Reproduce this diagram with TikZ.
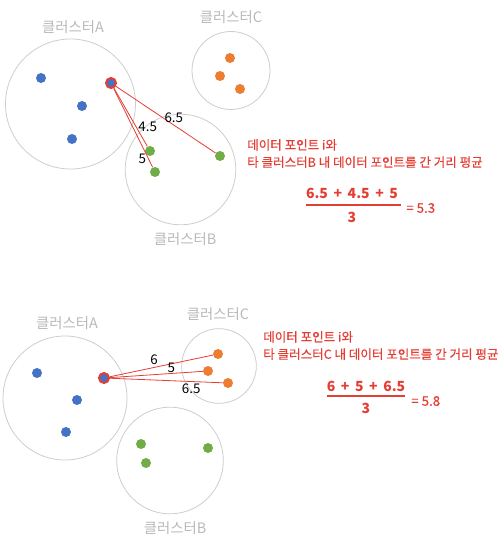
\documentclass[tikz,border=0pt]{standalone}
\usepackage{fontspec}
\setmainfont{Noto Sans CJK KR}
\newfontfamily\notefont{Noto Sans CJK KR}[FakeBold=0.4]
\usepackage{tikz}

\definecolor{blu}{HTML}{4472C4}
\definecolor{org}{HTML}{ED7D31}
\definecolor{grn}{HTML}{70AD47}
\definecolor{redl}{RGB}{228,62,52}
\definecolor{ring}{RGB}{205,205,205}
\definecolor{lgray}{RGB}{185,185,185}

\newcommand{\gap}{\hspace{0.4em}}

\begin{document}
\begin{tikzpicture}[x=0.75pt, y=-0.75pt,
    clus/.style={draw=ring, line width=0.6pt, circle, inner sep=0pt},
    lbl/.style={text=lgray, font=\fontsize{10.8}{12}\selectfont},
    dot/.style={circle, inner sep=0pt, minimum size=7.5pt},
    sel/.style={dot, fill=blu, draw=redl, line width=1.5pt, minimum size=7.5pt},
    dist/.style={draw=redl, line width=0.6pt},
    num/.style={text=black, font=\fontsize{10}{12}\selectfont, inner sep=1.5pt},
    note/.style={text=redl, anchor=west, align=left, inner sep=0pt, font=\notefont\fontsize{9.4}{13}\selectfont},
    frac/.style={text=redl, font=\bfseries\fontsize{10.5}{12}\selectfont},
    res/.style={text=redl, anchor=west, inner sep=0pt, font=\notefont\fontsize{10}{11}\selectfont}]

      \useasboundingbox (0,0) rectangle (500,540);

      % top: cluster B
      \node[clus, minimum size=97.5pt] (A1) at (70.5,104) {};
      \node[clus, minimum size=58.5pt] (C1) at (231,70.5) {};
      \node[clus, minimum size=83pt] (B1) at (180.5,169.5) {};
      \node[lbl] (la1) at (73,27) {클러스터A};
      \node[lbl] (lc1) at (231,17) {클러스터C};
      \node[lbl] (lb1) at (185,239) {클러스터B};

      \node[dot, fill=blu] (a11) at (41,78) {};
      \node[dot, fill=blu] (a12) at (82,106) {};
      \node[dot, fill=blu] (a13) at (72,139) {};
      \node[dot, fill=org] (c11) at (230,58) {};
      \node[dot, fill=org] (c12) at (220,76) {};
      \node[dot, fill=org] (c13) at (240,89) {};
      \node[dot, fill=grn] (b11) at (150,151) {};
      \node[dot, fill=grn] (b12) at (155,172) {};
      \node[dot, fill=grn] (b13) at (220,156) {};
      \node[sel] (s1) at (111,83) {};

      \draw (s1) edge[dist] node[num, pos=0.58, above]{6.5} (b13);
      \draw (s1) edge[dist] node[num, pos=0.66, right]{4.5} (b11);
      \draw (s1) edge[dist] node[num, pos=0.89, left]{5} (b12);

      \node[note] (t1) at (247,153.5) {데이터 포인트 i와\\타 클러스터B 내 데이터 포인트를 간 거리 평균};
      \node[frac] (n1) at (352,193) {6.5\gap+\gap4.5\gap+\gap5};
      \node[frac] (d1) at (352,217) {3};
      \draw[redl, line width=1.1pt] (306,205) -- (401,205);
      \node[res] (r1) at (406,208) {= 5.3};

      % bottom: cluster C
      \node[clus, minimum size=93pt] (A2) at (65,398) {};
      \node[clus, minimum size=56pt] (C2) at (219,366) {};
      \node[clus, minimum size=80pt] (B2) at (170,460.5) {};
      \node[lbl] (la2) at (67,323) {클러스터A};
      \node[lbl] (lc2) at (218,314) {클러스터C};
      \node[lbl] (lb2) at (175,528) {클러스터B};

      \node[dot, fill=blu] (a21) at (37,373) {};
      \node[dot, fill=blu] (a22) at (77,400) {};
      \node[dot, fill=blu] (a23) at (66,432) {};
      \node[dot, fill=org] (c21) at (218,354) {};
      \node[dot, fill=org] (c22) at (208,371) {};
      \node[dot, fill=org] (c23) at (228,383) {};
      \node[dot, fill=grn] (b21) at (141,444) {};
      \node[dot, fill=grn] (b22) at (146,463) {};
      \node[dot, fill=grn] (b23) at (208,448) {};
      \node[sel] (s2) at (104,378) {};

      \draw (s2) edge[dist] node[num, pos=0.43, above]{6} (c21);
      \draw (s2) edge[dist] node[num, pos=0.66, above, inner sep=0.5pt]{5} (c22);
      \draw (s2) edge[dist] node[num, pos=0.72, below]{6.5} (c23);

      \node[note] (t2) at (263,345.5) {데이터 포인트 i와\\타 클러스터C 내 데이터 포인트를 간 거리 평균};
      \node[frac] (n2) at (366,386) {6\gap+\gap5\gap+\gap6.5};
      \node[frac] (d2) at (366,408) {3};
      \draw[redl, line width=1.1pt] (327,396) -- (405,396);
      \node[res] (r2) at (411,401) {= 5.8};

    \end{tikzpicture}
\end{document}
